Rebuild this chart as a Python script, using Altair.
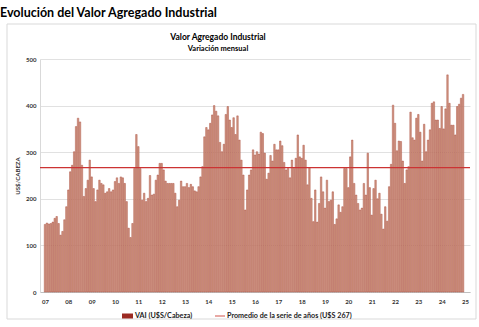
import json
import altair as alt
import pandas as pd

# Monthly Valor Agregado Industrial (U$S/Cabeza), Jan 2007 - Dec 2024
v2007 = [145, 148, 146, 147, 150, 158, 162, 147, 122, 130, 155, 183]
v2008 = [219, 258, 272, 301, 355, 373, 365, 272, 205, 222, 240, 283]
v2009 = [247, 222, 194, 219, 240, 233, 230, 212, 215, 222, 215, 219]
v2010 = [237, 245, 233, 247, 245, 233, 194, 137, 117, 147, 265, 338]
v2011 = [312, 265, 197, 212, 194, 201, 250, 208, 210, 240, 251, 276]
v2012 = [276, 262, 238, 233, 233, 233, 233, 212, 183, 197, 238, 226]
v2013 = [226, 233, 224, 231, 226, 217, 215, 226, 247, 269, 333, 353]
v2014 = [348, 362, 380, 400, 388, 378, 321, 301, 317, 381, 398, 369]
v2015 = [353, 374, 338, 378, 326, 283, 251, 176, 219, 251, 262, 305]
v2016 = [294, 301, 296, 343, 340, 298, 242, 255, 293, 281, 317, 305]
v2017 = [305, 324, 314, 278, 262, 265, 245, 283, 265, 287, 337, 290]
v2018 = [287, 315, 283, 230, 267, 201, 151, 219, 150, 190, 247, 215]
v2019 = [180, 240, 194, 197, 215, 145, 157, 187, 171, 183, 265, 265]
v2020 = [224, 290, 326, 233, 208, 190, 176, 180, 233, 208, 298, 224]
v2021 = [165, 222, 240, 200, 212, 167, 135, 183, 152, 226, 274, 401]
v2022 = [362, 303, 324, 323, 281, 233, 262, 269, 386, 331, 326, 373]
v2023 = [381, 343, 281, 360, 301, 326, 348, 405, 408, 369, 369, 351]
v2024 = [398, 350, 393, 466, 405, 358, 358, 337, 398, 403, 416, 424]

years = [v2007, v2008, v2009, v2010, v2011, v2012, v2013, v2014, v2015,
         v2016, v2017, v2018, v2019, v2020, v2021, v2022, v2023, v2024]
tick_labels = ["07", "08", "09", "10", "11", "12", "13", "14", "15", "16",
               "17", "18", "19", "20", "21", "22", "23", "24", "25"]
promedio = 267

serie_name = "VAI (U$S/Cabeza)"
prom_name = "Promedio de la serie de años (U$S 267)"
page_title = "Evolución del Valor Agregado Industrial"
chart_title = "Valor Agregado Industrial"
chart_subtitle = "Variación mensual"

vals = [v for yr in years for v in yr]
df = pd.DataFrame({"idx": list(range(len(vals))), "vai": vals})

FONT = "Lato"
W, H = 430, 233
one = alt.Data(values=[{}])

label_expr = json.dumps(tick_labels) + "[round(datum.value/12)]"

border = alt.Chart(one).mark_rect(fill=None, stroke="#d9d9d9", strokeWidth=1).encode(
    x=alt.value(-33), x2=alt.value(436), y=alt.value(-35), y2=alt.value(260)
)

bars = alt.Chart(df).mark_bar(width=1.5, fill="#d09a86", stroke="#a9483b", strokeWidth=0.45).encode(
    x=alt.X("idx:Q",
            scale=alt.Scale(domain=[0, 216], nice=False, zero=False),
            axis=alt.Axis(values=list(range(0, 217, 12)), labelExpr=label_expr, title=None,
                          grid=False, ticks=False, domainColor="#bfbfbf", labelFont=FONT,
                          labelFontSize=6, labelFontWeight="bold", labelColor="#333333",
                          labelPadding=6)),
    y=alt.Y("vai:Q",
            scale=alt.Scale(domain=[0, 500], nice=False),
            axis=alt.Axis(values=list(range(0, 501, 50)), title="US$/CABEZA", titleFont=FONT,
                          titleFontSize=6, titleFontWeight="bold", titleColor="#333333",
                          titlePadding=5, labelFont=FONT, labelFontSize=6, labelFontWeight="bold",
                          labelColor="#333333", labelPadding=4, ticks=False, domainColor="#d9d9d9",
                          gridColor="#d9d9d9", gridWidth=0.8))
)

rule = alt.Chart(pd.DataFrame({"p": [promedio]})).mark_rule(color="#cc3333", strokeWidth=1.2).encode(
    y="p:Q", x=alt.value(0), x2=alt.value(W)
)

def txt(s, x, y, size, align="center", color="#000000"):
    return alt.Chart(one).mark_text(text=s, font=FONT, fontSize=size, fontWeight="bold",
                                    align=align, baseline="middle", color=color).encode(
        x=alt.value(x), y=alt.value(y))

t_page = txt(page_title, -40, -46, 12.5, align="left")
t_title = txt(chart_title, 178, -22, 8.5)
t_sub = txt(chart_subtitle, 178, -10, 7.5)

leg_sq = alt.Chart(one).mark_rect(fill="#9b2a22").encode(
    x=alt.value(82), x2=alt.value(93), y=alt.value(254.5), y2=alt.value(259.5))
leg_t1 = txt(serie_name, 95, 257, 7.2, align="left", color="#222222")
leg_ln = alt.Chart(one).mark_rule(color="#d9706a", strokeWidth=1.2).encode(
    x=alt.value(175), x2=alt.value(185), y=alt.value(257))
leg_t2 = txt(prom_name, 187, 257, 7.2, align="left", color="#222222")

chart = alt.layer(border, bars, rule, t_page, t_title, t_sub, leg_sq, leg_t1, leg_ln, leg_t2).properties(
    width=W, height=H,
    autosize=alt.AutoSizeParams(type="none"),
    padding={"left": 40, "top": 59, "right": 9, "bottom": 35},
    background="white",
).configure_view(stroke=None)

chart.save("out.html", embed_options={"renderer": "svg", "actions": False})
